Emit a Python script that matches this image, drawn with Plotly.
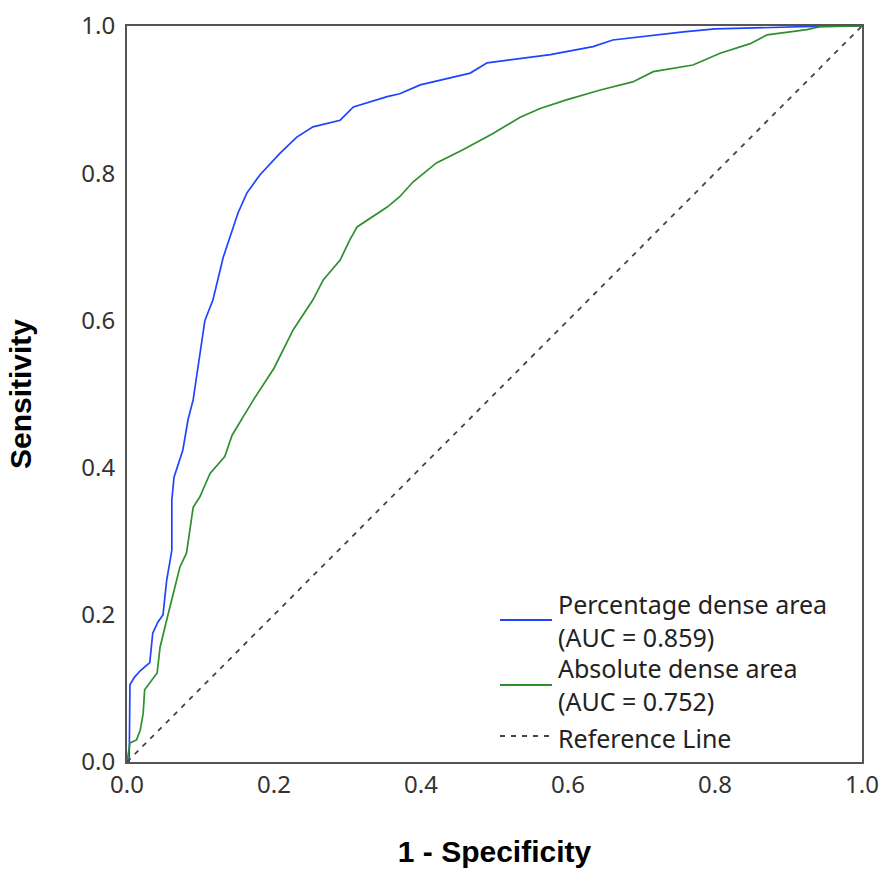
import plotly.graph_objects as go

# ---- data ----
tick_vals = [0.0, 0.2, 0.4, 0.6, 0.8, 1.0]
tick_text = ["0.0", "0.2", "0.4", "0.6", "0.8", "1.0"]

pct_fpr = [0, 0.003, 0.004, 0.010, 0.018, 0.031, 0.035, 0.042, 0.049, 0.054, 0.058,
           0.061, 0.061, 0.064, 0.076, 0.083, 0.090, 0.100, 0.106, 0.117, 0.131,
           0.151, 0.163, 0.181, 0.208, 0.231, 0.253, 0.290, 0.308, 0.354, 0.371,
           0.399, 0.430, 0.467, 0.490, 0.576, 0.634, 0.661, 0.757, 0.800, 0.916, 1.0]
pct_tpr = [0, 0.0, 0.105, 0.115, 0.124, 0.135, 0.175, 0.190, 0.200, 0.247, 0.270,
           0.288, 0.356, 0.387, 0.424, 0.465, 0.492, 0.560, 0.600, 0.628, 0.686,
           0.746, 0.773, 0.798, 0.827, 0.849, 0.863, 0.872, 0.890, 0.904, 0.908,
           0.920, 0.927, 0.936, 0.950, 0.961, 0.972, 0.981, 0.992, 0.996, 0.999, 1.0]

abs_fpr = [0, 0.004, 0.013, 0.018, 0.022, 0.024, 0.041, 0.045, 0.054, 0.061, 0.072,
           0.081, 0.086, 0.090, 0.099, 0.113, 0.133, 0.143, 0.158, 0.172, 0.200,
           0.226, 0.253, 0.267, 0.290, 0.303, 0.313, 0.335, 0.354, 0.371, 0.389,
           0.421, 0.457, 0.498, 0.535, 0.562, 0.599, 0.644, 0.688, 0.716, 0.770,
           0.807, 0.848, 0.871, 0.925, 0.943, 1.0]
abs_tpr = [0, 0.026, 0.030, 0.043, 0.066, 0.098, 0.121, 0.156, 0.193, 0.220, 0.265,
           0.284, 0.315, 0.346, 0.360, 0.392, 0.415, 0.444, 0.469, 0.492, 0.535,
           0.587, 0.628, 0.655, 0.682, 0.709, 0.727, 0.741, 0.754, 0.768, 0.788,
           0.814, 0.832, 0.854, 0.876, 0.888, 0.900, 0.913, 0.924, 0.938, 0.947,
           0.963, 0.976, 0.988, 0.995, 0.999, 1.0]

ref_x = [0.0, 1.0]
ref_y = [0.0, 1.0]

legend_lines = [
    ["Percentage dense area", "(AUC = 0.859)"],
    ["Absolute dense area", "(AUC = 0.752)"],
    ["Reference Line"],
]

BLUE = "#1f44ff"
GREEN = "#2f8f2f"
GREY = "#444444"

fig = go.Figure()
fig.add_trace(go.Scatter(x=pct_fpr, y=pct_tpr, mode="lines",
                         line=dict(color=BLUE, width=1.7), name="Percentage dense area"))
fig.add_trace(go.Scatter(x=abs_fpr, y=abs_tpr, mode="lines",
                         line=dict(color=GREEN, width=1.7), name="Absolute dense area"))
fig.add_trace(go.Scatter(x=ref_x, y=ref_y, mode="lines",
                         line=dict(color=GREY, width=1.8, dash="5px,6px"), name="Reference Line"))

W, H = 883, 871
L, R, T, B = 127, 21, 26, 109
pw, ph = W - L - R, H - T - B


def px2paper(px, py):
    return (px - L) / pw, (H - B - py) / ph


tick_font = dict(family="Noto Sans, Open Sans, DejaVu Sans", size=24, color="#333333")
title_font = dict(family="Liberation Sans, Arial, sans-serif", size=30, color="#000000")

axis_common = dict(range=[0, 1], tickvals=tick_vals, ticktext=tick_text,
                   showgrid=False, zeroline=False, showline=True, linecolor="#555555",
                   linewidth=2, mirror=True, ticks="", tickfont=tick_font,
                   automargin=False, fixedrange=True)

fig.update_layout(
    width=W, height=H,
    margin=dict(l=L, r=R, t=T, b=B),
    plot_bgcolor="white", paper_bgcolor="white",
    showlegend=False,
    xaxis=dict(**axis_common, ticklabelstandoff=0,
               title=dict(text="<b>1 - Specificity</b>", font=title_font, standoff=42)),
    yaxis=dict(**axis_common, ticklabelstandoff=5,
               title=dict(text="<b>Sensitivity</b>", font=title_font, standoff=41)),
)

# ---- manual legend (no border, bottom-right inside the plot) ----
legend_font = dict(family="Noto Sans, Open Sans, DejaVu Sans", size=25, color="#222222")
swatch_y = [620, 685, 736]
text_y = [620, 684, 737.5]
styles = [dict(color=BLUE, width=2), dict(color=GREEN, width=2),
          dict(color=GREY, width=2, dash="5px,6px")]
for i, lines in enumerate(legend_lines):
    x0, y0 = px2paper(500, swatch_y[i])
    x1, _ = px2paper(552, swatch_y[i])
    fig.add_shape(type="line", xref="paper", yref="paper", x0=x0, x1=x1, y0=y0, y1=y0,
                  line=styles[i])
    tx, ty = px2paper(556, text_y[i])
    fig.add_annotation(xref="paper", yref="paper", x=tx, y=ty, text="<br>".join(lines),
                       showarrow=False, xanchor="left", yanchor="middle", align="left",
                       font=legend_font)

fig.write_html("out.html",
               config={"displayModeBar": False, "staticPlot": True},
               post_script="document.body.style.margin='0';"
                           "document.body.style.overflow='hidden';")
